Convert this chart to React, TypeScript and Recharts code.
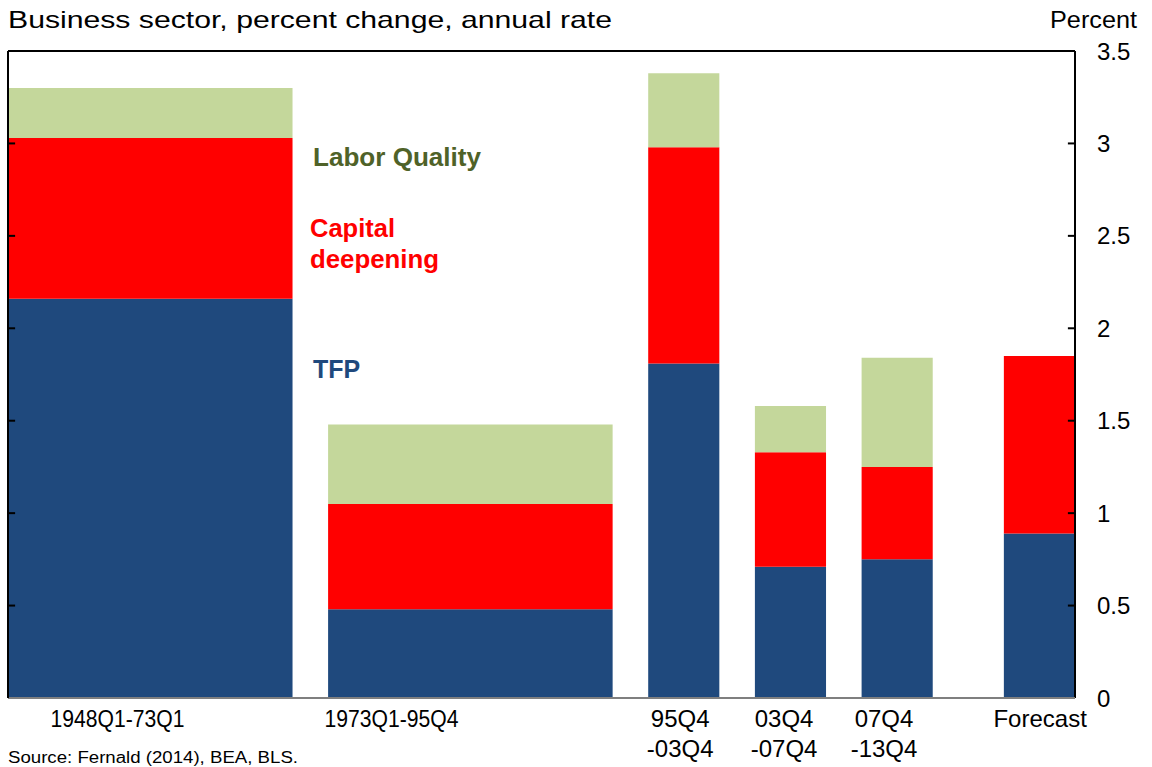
import { ComposedChart, XAxis, YAxis, ReferenceArea, ReferenceLine } from 'recharts';

// growth accounting, business sector (percent, annual rate)
const periods = ['1948Q1-73Q1', '1973Q1-95Q4', '95Q4-03Q4', '03Q4-07Q4', '07Q4-13Q4', 'Forecast'];
const tickLines = [['1948Q1-73Q1'], ['1973Q1-95Q4'], ['95Q4', '-03Q4'], ['03Q4', '-07Q4'], ['07Q4', '-13Q4'], ['Forecast']];
const tfp = [2.16, 0.48, 1.81, 0.71, 0.75, 0.89];
const capitalDeepening = [0.87, 0.57, 1.17, 0.62, 0.5, 0.96];
const laborQuality = [0.27, 0.43, 0.4, 0.25, 0.59, 0];
const yTicks = [0, 0.5, 1, 1.5, 2, 2.5, 3, 3.5];

// column layout on a slot scale (wide columns are 8 slots, narrow ones 2)
const colStart = [0, 9, 18, 21, 24, 28];
const colSpan = [8, 8, 2, 2, 2, 2];
const labelAt = [3.08, 10.78, 18.9, 21.82, 24.63, 29.02];
const X_MAX = 30;
const TICK_LEN = 0.2; // inner tick length, in slot units

const BLUE = '#1F497D';
const RED = '#FF0000';
const GREEN = '#C4D79B';
const FONT = '"Liberation Sans", Arial, sans-serif';

const data = periods.map((p, i) => ({
  period: p,
  pos: labelAt[i],
  tfp: tfp[i],
  cap: capitalDeepening[i],
  lq: laborQuality[i],
  total: tfp[i] + capitalDeepening[i] + laborQuality[i],
}));

const PeriodTick = ({ x, y, payload }: any) => {
  const i = labelAt.indexOf(payload.value);
  const lines = tickLines[i] || [];
  return (
    <text x={x} y={y} textAnchor="middle" fontSize={24} fontFamily={FONT} fill="#000">
      {lines.map((l, k) => (
        <tspan
          key={k}
          x={x}
          y={y + 29 + k * 30}
          textLength={l.length > 8 ? 134 : undefined}
          lengthAdjust="spacingAndGlyphs"
        >
          {l}
        </tspan>
      ))}
    </text>
  );
};

export default function App() {
  const segments: any[] = [];
  data.forEach((d, i) => {
    const x1 = colStart[i];
    const x2 = colStart[i] + colSpan[i];
    const parts = [
      { lo: 0, hi: d.tfp, fill: BLUE },
      { lo: d.tfp, hi: d.tfp + d.cap, fill: RED },
      { lo: d.tfp + d.cap, hi: d.tfp + d.cap + d.lq, fill: GREEN },
    ];
    parts.forEach((s, k) => {
      if (s.hi - s.lo <= 0) return;
      segments.push(
        <ReferenceArea
          key={`${i}-${k}`}
          xAxisId="bottom"
          yAxisId="right"
          x1={x1}
          x2={x2}
          y1={s.lo}
          y2={s.hi}
          fill={s.fill}
          fillOpacity={1}
          stroke="none"
          ifOverflow="visible"
        />
      );
    });
  });

  // frame sides + inward ticks, drawn over the columns
  const frame: any[] = [
    <ReferenceLine key="l" xAxisId="bottom" yAxisId="right" x={0} stroke="#000" strokeWidth={2} ifOverflow="visible" />,
    <ReferenceLine key="r" xAxisId="bottom" yAxisId="right" x={X_MAX} stroke="#000" strokeWidth={2} ifOverflow="visible" />,
  ];
  yTicks.slice(1, -1).forEach((v) => {
    frame.push(
      <ReferenceLine
        key={`tl${v}`}
        xAxisId="bottom"
        yAxisId="right"
        segment={[{ x: 0, y: v }, { x: TICK_LEN, y: v }]}
        stroke="#000"
        strokeWidth={2}
        ifOverflow="visible"
      />,
      <ReferenceLine
        key={`tr${v}`}
        xAxisId="bottom"
        yAxisId="right"
        segment={[{ x: X_MAX - TICK_LEN, y: v }, { x: X_MAX, y: v }]}
        stroke="#000"
        strokeWidth={2}
        ifOverflow="visible"
      />
    );
  });

  return (
    <div style={{ position: 'absolute', left: 0, top: 0, width: 1152, height: 767, background: '#fff' }}>
      <ComposedChart width={1152} height={767} data={data} margin={{ top: 51, right: 0, bottom: 0, left: 8 }}>
        <XAxis
          xAxisId="bottom"
          dataKey="pos"
          type="number"
          domain={[0, X_MAX]}
          allowDataOverflow
          ticks={labelAt}
          interval={0}
          height={69}
          tickLine={false}
          tickSize={0}
          tickMargin={0}
          axisLine={{ stroke: '#7f7f7f', strokeWidth: 2 }}
          tick={<PeriodTick />}
        />
        <XAxis
          xAxisId="top"
          orientation="top"
          dataKey="pos"
          type="number"
          domain={[0, X_MAX]}
          allowDataOverflow
          mirror
          height={1}
          tick={false}
          tickLine={false}
          axisLine={{ stroke: '#000', strokeWidth: 2 }}
        />
        <YAxis
          yAxisId="left"
          orientation="left"
          dataKey="total"
          mirror
          width={1}
          type="number"
          domain={[0, 3.5]}
          allowDataOverflow
          ticks={yTicks}
          interval={0}
          tick={false}
          tickSize={7}
          tickLine={{ stroke: '#000', strokeWidth: 2 }}
          axisLine={{ stroke: '#000', strokeWidth: 2 }}
        />
        <YAxis
          yAxisId="right"
          orientation="right"
          dataKey="total"
          width={77}
          type="number"
          domain={[0, 3.5]}
          allowDataOverflow
          ticks={yTicks}
          interval={0}
          tickLine={false}
          axisLine={false}
          tickSize={0}
          tickMargin={22}
          tick={{ fontSize: 24, fontFamily: FONT, fill: '#000' }}
        />
        {segments}
        {frame}
      </ComposedChart>
      <svg width={1152} height={767} style={{ position: 'absolute', left: 0, top: 0, pointerEvents: 'none' }} fontFamily={FONT}>
        <text x={8} y={28} fontSize={24} textLength={604} lengthAdjust="spacingAndGlyphs" fill="#000">
          Business sector, percent change, annual rate
        </text>
        <text x={1050} y={28} fontSize={23} textLength={87} lengthAdjust="spacingAndGlyphs" fill="#000">
          Percent
        </text>
        <text x={8} y={763} fontSize={16} textLength={290} lengthAdjust="spacingAndGlyphs" fill="#000">
          Source: Fernald (2014), BEA, BLS.
        </text>
        <text x={313} y={166} fontSize={25} fontWeight="bold" textLength={168} lengthAdjust="spacingAndGlyphs" fill="#4F6228">Labor Quality</text>
        <text x={310} y={237} fontSize={25} fontWeight="bold" textLength={85} lengthAdjust="spacingAndGlyphs" fill={RED}>Capital</text>
        <text x={310} y={268} fontSize={25} fontWeight="bold" textLength={129} lengthAdjust="spacingAndGlyphs" fill={RED}>deepening</text>
        <text x={313} y={378} fontSize={25} fontWeight="bold" fill={BLUE}>TFP</text>
      </svg>
    </div>
  );
}
